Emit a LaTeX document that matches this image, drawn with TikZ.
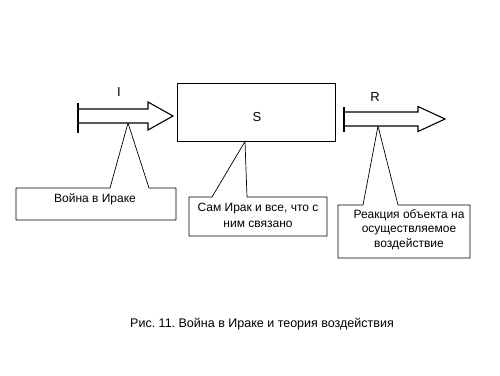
\documentclass[tikz,border=0pt]{standalone}
\usepackage{fontspec}
\setmainfont{Liberation Sans}
\usetikzlibrary{positioning,calc}
\frenchspacing

\begin{document}
\begin{tikzpicture}[x=1pt, y=-1pt,
        sysbox/.style = {rectangle, draw=black, line width=1.3pt, inner sep=0pt, minimum width=158pt, minimum height=58pt},
        lbl/.style = {font=\fontsize{13}{15}\selectfont},
        note/.style = {align=center, inner sep=0pt, font=\fontsize{12}{16}\selectfont},
        callout/.style = {draw=black, line width=0.7pt, line join=miter},
        blockarr/.style = {draw=black, line width=1.1pt, fill=white, line join=miter},
        stopbar/.style = {draw=black, line width=1.8pt}
    ]
        \useasboundingbox (0,0) rectangle (500,375);

        % Middle: the system
        \node[sysbox] (sys) at (256.5,112.5) {};
        \node[lbl] (slbl) at (257,117) {S};

        % Arrow ends
        \coordinate (iTail) at (78,116);
        \coordinate (iTip) at (173,116);
        \coordinate (rTail) at (344,119);
        \coordinate (rTip) at (445,119);

        % Pointer tips of the callouts
        \coordinate (iPt) at (128,123);
        \coordinate (sPt) at (245,141.5);
        \coordinate (rPt) at (378,126);

        % Callouts (drawn first, arrows lie on top)
        \draw[callout] (16,188) -- (110,188) -- (iPt) -- (149,188) -- (176,188) -- (176,220) -- (16,220) -- cycle;
        \draw[callout] (189,197) -- (212,197) -- (sPt) -- (247,197) -- (327,197) -- (327,236) -- (189,236) -- cycle;
        \draw[callout] (338,205) -- (363,205) -- (rPt) -- (398,205) -- (470,205) -- (470,258) -- (338,258) -- cycle;

        \node[note] (war) at (95,199) {Война в Ираке};
        \node[note] (iraq) at (258,215) {Сам Ирак и все, что с\\ним связано};
        \node[note, font=\fontsize{12}{14.5}\selectfont] (react) at (409,229.5) {Реакция объекта на\\осуществляемое\\воздействие};

        % Input arrow I
        \draw[blockarr] ($(iTail)+(0,-7)$) -- ($(iTip)+(-25,-7)$) -- ($(iTip)+(-25,-14)$) -- (iTip)
            -- ($(iTip)+(-25,14)$) -- ($(iTip)+(-25,7)$) -- ($(iTail)+(0,7)$) -- cycle;
        \draw[stopbar] ($(iTail)+(0,-13)$) -- ($(iTail)+(0,17)$);
        \node[lbl] (ilbl) at (119,92) {I};

        % Output arrow R
        \draw[blockarr] ($(rTail)+(0,-7)$) -- ($(rTip)+(-27,-7)$) -- ($(rTip)+(-27,-12.5)$) -- (rTip)
            -- ($(rTip)+(-27,12.5)$) -- ($(rTip)+(-27,7)$) -- ($(rTail)+(0,7)$) -- cycle;
        \draw[stopbar] ($(rTail)+(0,-12)$) -- ($(rTail)+(0,13)$);
        \node[lbl] (rlbl) at (375,97) {R};

        % Caption
        \node[note, font=\fontsize{12.5}{15}\selectfont] (cap) at (262,324) {Рис. 11. Война в Ираке и теория воздействия};

    \end{tikzpicture}
\end{document}
